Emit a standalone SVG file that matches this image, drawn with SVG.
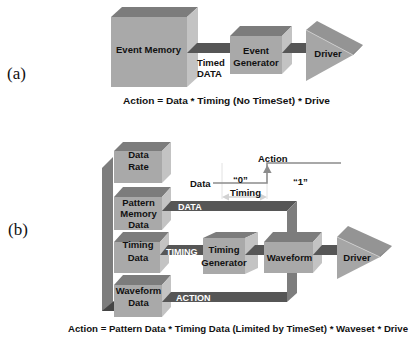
<svg xmlns="http://www.w3.org/2000/svg" width="410" height="337" viewBox="0 0 410 337">
<style>
.fr{fill:#a9a9a9}
.tp{fill:#7c7c7c}
.rt{fill:#c3c3c3}
.bar{fill:#565656}
.vbar{fill:#7d7d7d}
.dtop{fill:#949494}
.dfr{fill:#a6a6a6}
.dl{stroke:#cfcfcf;stroke-width:0.8;fill:none}
text{font-family:"Liberation Sans",Arial,sans-serif;font-weight:bold;fill:#111}
.n{font-size:9.5px;text-anchor:middle}
.w{font-size:9px;fill:#fff}
.t{font-size:9.5px}
.cap{font-size:9.5px}
.lbl{font-family:"Liberation Serif","Times New Roman",serif;font-weight:normal;font-size:17px}
.sig{stroke:#8c8c8c;stroke-width:1.6;fill:none}
</style>
<rect width="410" height="337" fill="#fff"/>
<text class="lbl" x="7" y="79">(a)</text>
<text class="lbl" x="8" y="235">(b)</text>

<g id="event-memory">
<polygon class="tp" points="111,17 122,7 198,7 187,17"/>
<polygon class="rt" points="187,17 198,7 198,77 187,87"/>
<rect class="fr" x="111" y="17" width="76" height="70"/>
<text class="n" x="148.5" y="52.5">Event Memory</text>
</g>
<g id="event-generator">
<polygon class="tp" points="230,36 240,26 292,26 282,36"/>
<polygon class="rt" points="282,36 292,26 292,64 282,74"/>
<rect class="fr" x="230" y="36" width="52" height="38"/>
<text class="n" x="256" y="53.5">Event</text>
<text class="n" x="256" y="65.5">Generator</text>
</g>
<g id="driver-a">
<polygon class="dtop" points="306,30 317,21 363,45 353,55"/>
<polygon class="dfr" points="306,30 353,55 306,81"/>
<polygon fill="#8a8a8a" points="363,45 353,55 352,54"/>
<line class="dl" x1="306" y1="30" x2="353" y2="55"/>
<text class="n" x="328" y="56.5">Driver</text>
</g>
<g id="timed-data-label">
<text class="t" x="197" y="66">Timed</text>
<text class="t" x="197" y="76.5">DATA</text>
</g>
<text class="cap" x="123" y="104" textLength="207" lengthAdjust="spacingAndGlyphs">Action = Data * Timing (No TimeSet) * Drive</text>

<g id="data-rate">
<polygon class="tp" points="114,151 123,142 171,142 162,151"/>
<polygon class="rt" points="162,151 171,142 171,174 162,183"/>
<rect class="fr" x="114" y="151" width="48" height="32"/>
<text class="n" x="138.5" y="157.5">Data</text>
<text class="n" x="138.5" y="169.5">Rate</text>
</g>
<g id="pattern-memory-data">
<polygon class="tp" points="114,197 123,187 171,187 162,197"/>
<polygon class="rt" points="162,197 171,187 171,220 162,230"/>
<rect class="fr" x="114" y="197" width="48" height="33"/>
<text class="n" x="138.5" y="205.5">Pattern</text>
<text class="n" x="138.5" y="216.5">Memory</text>
<text class="n" x="138.5" y="227.5">Data</text>
</g>
<g id="timing-data">
<polygon class="tp" points="114,242 123,232 169,232 160,242"/>
<polygon class="rt" points="160,242 169,232 169,263 160,273"/>
<rect class="fr" x="114" y="242" width="46" height="31"/>
<text class="n" x="138" y="248">Timing</text>
<text class="n" x="138" y="260.5">Data</text>
</g>
<g id="waveform-data">
<polygon class="tp" points="114,285 123,275 171,275 162,285"/>
<polygon class="rt" points="162,285 171,275 171,307 162,317"/>
<rect class="fr" x="114" y="285" width="48" height="32"/>
<text class="n" x="138.5" y="294">Waveform</text>
<text class="n" x="138.5" y="305.5">Data</text>
</g>
<g id="timing-generator">
<polygon class="tp" points="203,238 216,232 258,232 245,238"/>
<polygon class="rt" points="245,238 258,232 258,268 245,274"/>
<rect class="fr" x="203" y="238" width="42" height="36"/>
<text class="n" x="224" y="253">Timing</text>
<text class="n" x="224" y="266">Generator</text>
</g>
<g id="waveform">
<polygon class="tp" points="264,242 273,232 322,232 313,242"/>
<polygon class="rt" points="313,242 322,232 322,263 313,273"/>
<rect class="fr" x="264" y="242" width="49" height="31"/>
<text class="n" x="289.5" y="261">Waveform</text>
</g>
<g id="driver-b">
<polygon class="dtop" points="337,237 348,226 392,246 380,257"/>
<polygon class="dfr" points="337,237 380,257 337,279"/>
<polygon fill="#8a8a8a" points="392,246 380,257 379,256"/>
<line class="dl" x1="337" y1="237" x2="380" y2="257"/>
<text class="n" x="357" y="260.5">Driver</text>
</g>

<g id="connectors">
<polygon class="bar" points="187,53 197,43 230,43 230,53"/>
<polygon class="bar" points="282,53 291,43 306,43 306,53"/>
<polygon class="vbar" points="102,168 113,157 113,311 102,311"/>
<polygon fill="#454545" points="102,311 114,301 114,311"/>
<polygon class="bar" points="162,211 171,201 297,201 287,211"/>
<polygon class="vbar" points="287,211 297,201 297,232 287,232"/>
<polygon class="bar" points="160,255 168,245 203,245 203,255"/>
<polygon class="bar" points="245,255 255,245 264,245 264,255"/>
<polygon class="bar" points="313,255 322,245 337,245 337,255"/>
<polygon class="vbar" points="287,273 297,273 297,293 287,302"/>
<polygon class="bar" points="162,302 171,292 287,292 287,302"/>
<text class="w" x="178" y="209.5">DATA</text>
<text class="w" x="166" y="254.5">TIMING</text>
<text class="w" x="176" y="300.5">ACTION</text>
</g>

<g id="timing-diagram">
<line x1="222" y1="163" x2="222" y2="199" stroke="#e2e2e2" stroke-width="1"/>
<line x1="267" y1="183" x2="267" y2="199" stroke="#e2e2e2" stroke-width="1"/>
<polyline class="sig" points="213,183 267,183 267,163 341,163"/>
<polygon fill="#8c8c8c" points="263,173 267.3,165 271.6,173"/>
<line x1="228" y1="197" x2="261" y2="197" stroke="#d2d2d2" stroke-width="1.6"/>
<polygon fill="#d2d2d2" points="222,197 229,193.5 229,200.5"/>
<polygon fill="#d2d2d2" points="267,197 260,193.5 260,200.5"/>
<text class="t" x="258" y="161.5">Action</text>
<text class="t" x="190" y="186.5">Data</text>
<text class="t" x="233" y="182.5">“0”</text>
<text class="t" x="293" y="184.5">“1”</text>
<text class="t" x="230" y="195.5">Timing</text>
</g>
<text class="cap" x="68" y="332" textLength="340" lengthAdjust="spacingAndGlyphs">Action = Pattern Data * Timing Data (Limited by TimeSet) * Waveset * Drive</text>
</svg>
